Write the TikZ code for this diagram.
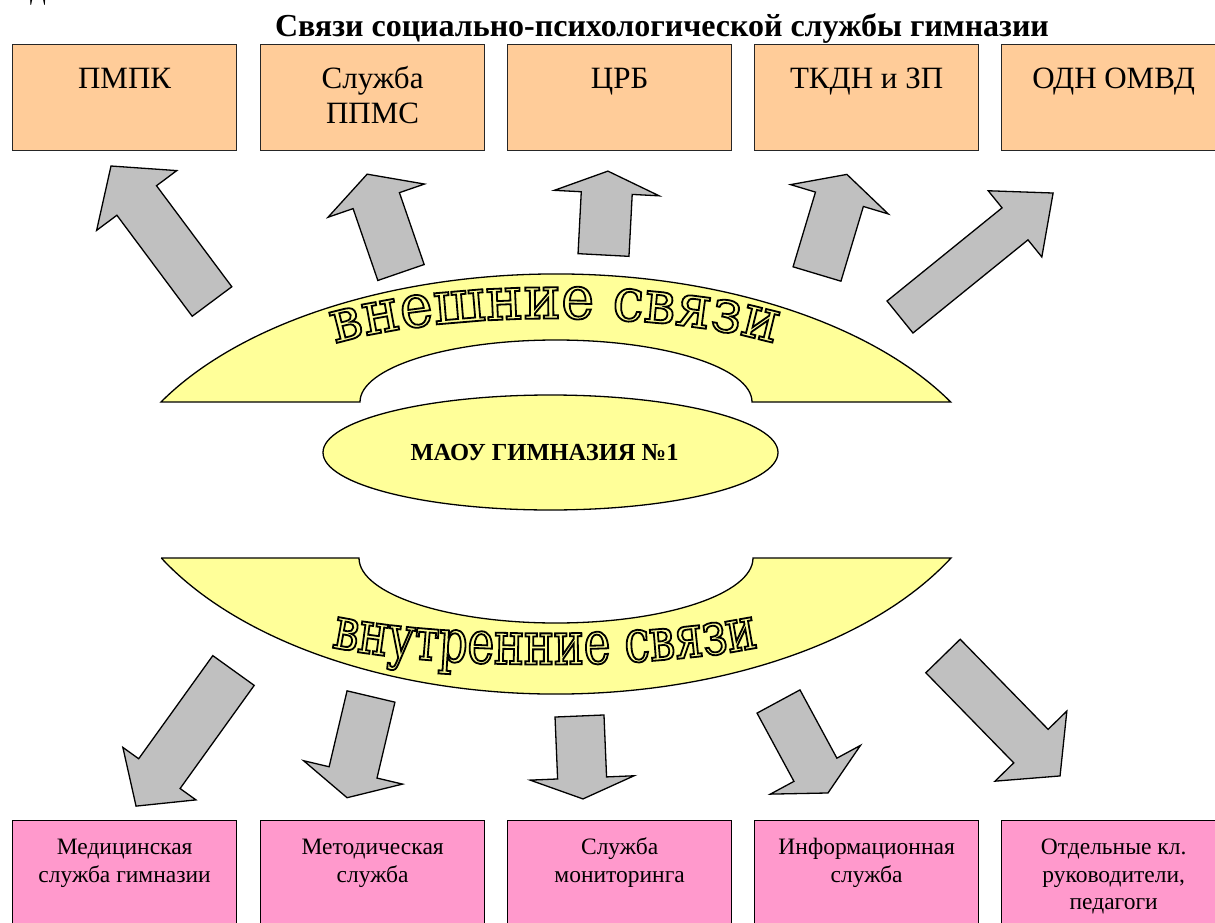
\documentclass[tikz,border=0pt]{standalone}
\usepackage{fontspec}
\setmainfont{Liberation Serif}
\newfontfamily\outerArt[FakeStretch=0.93]{DejaVu Serif}
\newfontfamily\innerArt[FakeStretch=0.755]{DejaVu Serif}
\usetikzlibrary{shapes.geometric,decorations.text}
\definecolor{peach}{HTML}{FFCC99}
\definecolor{pinkbox}{HTML}{FF99CC}
\definecolor{bandyellow}{HTML}{FFFF99}
\definecolor{arrowgray}{HTML}{C0C0C0}
\tikzstyle{topbox} = [draw=black!85, line width=1.2pt, fill=peach, inner sep=0pt, anchor=north west, font=\fontsize{31}{35}\selectfont]
\tikzstyle{lowbox} = [draw=black, line width=1.3pt, fill=pinkbox, inner sep=0pt, anchor=north west, font=\fontsize{23.5}{27.5}\selectfont]
\tikzstyle{band} = [draw=black, line width=1.3pt, fill=bandyellow]
\tikzstyle{blockarrow} = [draw=black, line width=1.3pt, fill=arrowgray, line join=miter]
\newcommand{\topText}[1]{\parbox[c][106pt][t]{224pt}{\centering\rule{0pt}{44pt}#1}}
\newcommand{\lowText}[1]{\parbox[c][110pt][t]{224pt}{\centering\rule{0pt}{34pt}#1}}
% hollow letters: fill with the band colour, stroke black
\newcommand{\hollow}{\color{bandyellow}\special{pdf:literal 2 Tr 1.8 w 0 0 0 RG}}
\newcommand{\drawBlockArrow}[7]{
  % #1,#2 tail centre; #3 angle; #4 length; #5 shaft half; #6 head half; #7 head length
  \begin{scope}[shift={(#1,-#2)}, rotate=#3]
    \draw[blockarrow] (0,-#5) -- ({#4-#7},-#5) -- ({#4-#7},-#6) -- (#4,0)
      -- ({#4-#7},#6) -- ({#4-#7},#5) -- (0,#5) -- cycle;
  \end{scope}
}
\newcommand{\outlineWords}[4]{
  % #1 font, #2 size, #3 words, #4 path
  \path[decorate, decoration={text along path, text align=center,
    text={|#1\fontsize{#2}{#2}\selectfont\hollow|#3}}] #4;
}

\begin{document}
\begin{tikzpicture}[x=1pt, y=1pt]
  \useasboundingbox[fill=white] (0,0) rectangle (1215,-923);

  \node[anchor=base, font=\fontsize{23}{27}\selectfont] (cut) at (38,-1) {Д};
  \node[anchor=base, font=\bfseries\fontsize{32}{36}\selectfont] (title) at (662,-37)
    {Связи социально-психологической службы гимназии};

  % partners outside
  \node[topbox] (pmpk) at (12,-44) {\topText{ПМПК}};
  \node[topbox] (ppms) at (260,-44) {\topText{Служба\\ППМС}};
  \node[topbox] (crb) at (507,-44) {\topText{ЦРБ}};
  \node[topbox] (tkdn) at (754,-44) {\topText{ТКДН и ЗП}};
  \node[topbox] (odn) at (1001,-44) {\topText{ОДН ОМВД}};

  % arrows up
  \drawBlockArrow{212}{301.5}{126.7}{169}{24.7}{50}{43}
  \drawBlockArrow{401}{272.5}{109}{104}{24.5}{51}{28}
  \drawBlockArrow{603.5}{255}{87}{84}{25.5}{52.5}{22}
  \drawBlockArrow{817}{274}{73.3}{104}{25}{51}{26}
  \drawBlockArrow{900}{317}{39}{197}{20.6}{42.6}{49}

  % bands
  \draw[band] (161,-402) arc[start angle=151.34, end angle=28.66, x radius=450pt, y radius=246pt]
    -- (752,-402) arc[start angle=0, end angle=180, x radius=196pt, y radius=62pt] -- cycle;
  \draw[band] (161,-558) -- (359,-558)
    arc[start angle=180, end angle=360, x radius=197pt, y radius=65pt]
    -- (951,-558) arc[start angle=-27.95, end angle=-152.05, x radius=447pt, y radius=256pt] -- cycle;

  \outlineWords{\outerArt}{60}{внешние связи}{(316,-350) .. controls (428,-308) and (682,-308) .. (794,-350)}
  \outlineWords{\innerArt}{60}{внутренние связи}{(309,-642) .. controls (419,-672) and (671,-672) .. (781,-642)}

  \node[ellipse, draw=black, line width=1.3pt, fill=bandyellow, minimum width=455pt, minimum height=115pt,
    inner sep=0pt, font=\bfseries\fontsize{24.5}{28}\selectfont] (gymnasium) at (550.5,-452.5) {\kern-12pt МАОУ ГИМНАЗИЯ №1};

  % arrows down
  \drawBlockArrow{233.5}{670.5}{-125.7}{167}{25.5}{45}{40}
  \drawBlockArrow{371}{696.5}{-103.3}{104}{24.6}{50.8}{26}
  \drawBlockArrow{579.5}{716}{-87.6}{83}{24.5}{52}{21}
  \drawBlockArrow{778.5}{701.5}{-61.6}{104}{24.4}{51.2}{26.4}
  \drawBlockArrow{943}{656}{-45.7}{167.6}{24}{50.2}{41.7}

  % services inside
  \node[lowbox] (med) at (12,-820) {\lowText{Медицинская\\служба гимназии}};
  \node[lowbox] (metod) at (260,-820) {\lowText{Методическая\\служба}};
  \node[lowbox] (monitor) at (507,-820) {\lowText{Служба\\мониторинга}};
  \node[lowbox] (inform) at (754,-820) {\lowText{Информационная\\служба}};
  \node[lowbox] (teachers) at (1001,-820) {\lowText{Отдельные кл.\\руководители,\\педагоги}};
\end{tikzpicture}
\end{document}
